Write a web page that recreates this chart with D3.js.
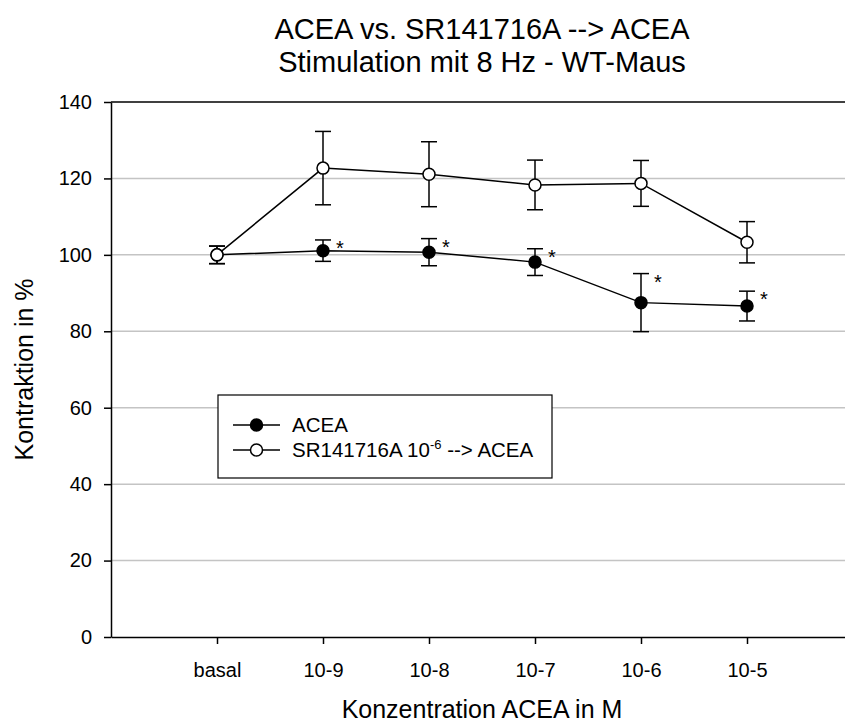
<!DOCTYPE html>
<html>
<head>
<meta charset="utf-8">
<script src="https://cdn.jsdelivr.net/npm/d3@7"></script>
<style>
  body { margin: 0; background: #fff; }
  svg { display: block; font-family: "Liberation Sans", Arial, sans-serif; }
</style>
</head>
<body>
<svg id="chart" width="845" height="724"></svg>
<script>
const categories = ["basal", "10-9", "10-8", "10-7", "10-6", "10-5"];
const acea = [100, 101.1, 100.7, 98.1, 87.5, 86.6];
const acea_err = [2.3, 2.8, 3.55, 3.5, 7.6, 3.9];
const sr = [100, 122.7, 121.1, 118.3, 118.7, 103.3];
const sr_err = [2.3, 9.6, 8.5, 6.5, 6.0, 5.4];
const significant = [false, true, true, true, true, true];
const y_ticks = [0, 20, 40, 60, 80, 100, 120, 140];
const grid_ticks = [20, 40, 60, 80, 100, 120];

const svg = d3.select("#chart");
const margin = { top: 102, right: -8, bottom: 87, left: 111 };
const width = 845, height = 724;

const x = d3.scaleLinear()
  .domain([0, categories.length + 1])
  .range([margin.left, width - margin.right]);

const y = d3.scaleLinear()
  .domain([0, 140])
  .range([height - margin.bottom, margin.top]);

// gridlines
svg.append("g")
  .selectAll("line")
  .data(grid_ticks)
  .join("line")
  .attr("x1", x(0)).attr("x2", x(categories.length + 1))
  .attr("y1", (d) => y(d)).attr("y2", (d) => y(d))
  .attr("stroke", "#c4c4c4")
  .attr("stroke-width", 1.5);

// top frame line
svg.append("line")
  .attr("x1", x(0)).attr("x2", x(categories.length + 1))
  .attr("y1", y(140)).attr("y2", y(140))
  .attr("stroke", "#000").attr("stroke-width", 1.5);

// axes
const xAxis = svg.append("g")
  .attr("transform", `translate(0,${ y(0) })`)
  .call(d3.axisBottom(x)
    .tickValues(categories.map((c, i) => i + 1))
    .tickFormat((d) => categories[d - 1])
    .tickSize(7)
    .tickSizeOuter(0)
    .tickPadding(19));
xAxis.selectAll("text").attr("font-size", 20).attr("fill", "#000").attr("font-family", null);

const yAxis = svg.append("g")
  .attr("transform", `translate(${ x(0) },0)`)
  .call(d3.axisLeft(y)
    .tickValues(y_ticks)
    .tickSize(7)
    .tickSizeOuter(0)
    .tickPadding(12));
yAxis.selectAll("text").attr("font-size", 20).attr("fill", "#000").attr("font-family", null);

svg.selectAll(".domain, .tick line").attr("stroke", "#000").attr("stroke-width", 1.5);

// series
const series = [
  { values: acea, err: acea_err, fill: "#000" },
  { values: sr, err: sr_err, fill: "#fff" },
];

const line = d3.line().x((d, i) => x(i + 1)).y((d) => y(d));

series.forEach((s) => {
  svg.append("path")
    .datum(s.values)
    .attr("d", line)
    .attr("fill", "none")
    .attr("stroke", "#000")
    .attr("stroke-width", 1.5);

  const eb = svg.append("g")
    .selectAll("g")
    .data(s.values.map((v, i) => ({ i, v, e: s.err[i] })))
    .join("g");
  eb.append("line")
    .attr("x1", (d) => x(d.i + 1)).attr("x2", (d) => x(d.i + 1))
    .attr("y1", (d) => y(d.v - d.e)).attr("y2", (d) => y(d.v + d.e));
  eb.append("line")
    .attr("x1", (d) => x(d.i + 1) - 8).attr("x2", (d) => x(d.i + 1) + 8)
    .attr("y1", (d) => y(d.v + d.e)).attr("y2", (d) => y(d.v + d.e));
  eb.append("line")
    .attr("x1", (d) => x(d.i + 1) - 8).attr("x2", (d) => x(d.i + 1) + 8)
    .attr("y1", (d) => y(d.v - d.e)).attr("y2", (d) => y(d.v - d.e));
  eb.selectAll("line").attr("stroke", "#000").attr("stroke-width", 1.5);
});

series.forEach((s) => {
  svg.append("g")
    .selectAll("circle")
    .data(s.values)
    .join("circle")
    .attr("cx", (d, i) => x(i + 1))
    .attr("cy", (d) => y(d))
    .attr("r", 6)
    .attr("fill", s.fill)
    .attr("stroke", "#000")
    .attr("stroke-width", 1.5);
});

// asterisks
svg.append("g")
  .selectAll("text")
  .data(acea.map((v, i) => ({ i, v, e: acea_err[i] })).filter((d) => significant[d.i]))
  .join("text")
  .attr("x", (d) => x(d.i + 1) + 17)
  .attr("y", (d) => y(d.v + d.e) + 15)
  .attr("text-anchor", "middle")
  .attr("font-size", 20)
  .text("*");

// legend
const lg = svg.append("g").attr("transform", "translate(218,395)");
lg.append("rect")
  .attr("width", 334).attr("height", 83)
  .attr("fill", "#fff").attr("stroke", "#000").attr("stroke-width", 1.2);
const rows = lg.selectAll("g")
  .data(series)
  .join("g")
  .attr("transform", (d, i) => `translate(0,${ 30 + i * 25 })`);
rows.append("line")
  .attr("x1", 15).attr("x2", 62)
  .attr("stroke", "#000").attr("stroke-width", 1.5);
rows.append("circle")
  .attr("cx", 38.5).attr("r", 6)
  .attr("fill", (d) => d.fill)
  .attr("stroke", "#000").attr("stroke-width", 1.5);
const lt = rows.append("text")
  .attr("x", 74).attr("y", 7)
  .attr("font-size", 20.5);
lt.filter((d, i) => i === 0).text("ACEA");
const t2 = lt.filter((d, i) => i === 1);
t2.append("tspan").text("SR141716A 10");
t2.append("tspan").attr("dy", -8).attr("font-size", 13).text("-6");
t2.append("tspan").attr("dy", 8).text(" --> ACEA");

// titles
const cx = (x(0) + x(categories.length + 1)) / 2;
svg.append("text")
  .attr("x", cx).attr("y", 39)
  .attr("text-anchor", "middle").attr("font-size", 29)
  .text("ACEA vs. SR141716A --> ACEA");
svg.append("text")
  .attr("x", cx).attr("y", 72)
  .attr("text-anchor", "middle").attr("font-size", 29)
  .text("Stimulation mit 8 Hz - WT-Maus");

svg.append("text")
  .attr("x", cx).attr("y", 718)
  .attr("text-anchor", "middle").attr("font-size", 25)
  .text("Konzentration ACEA in M");

svg.append("text")
  .attr("transform", `translate(33,${ (y(0) + y(140)) / 2 }) rotate(-90)`)
  .attr("text-anchor", "middle").attr("font-size", 25)
  .text("Kontraktion in %");
</script>
</body>
</html>
